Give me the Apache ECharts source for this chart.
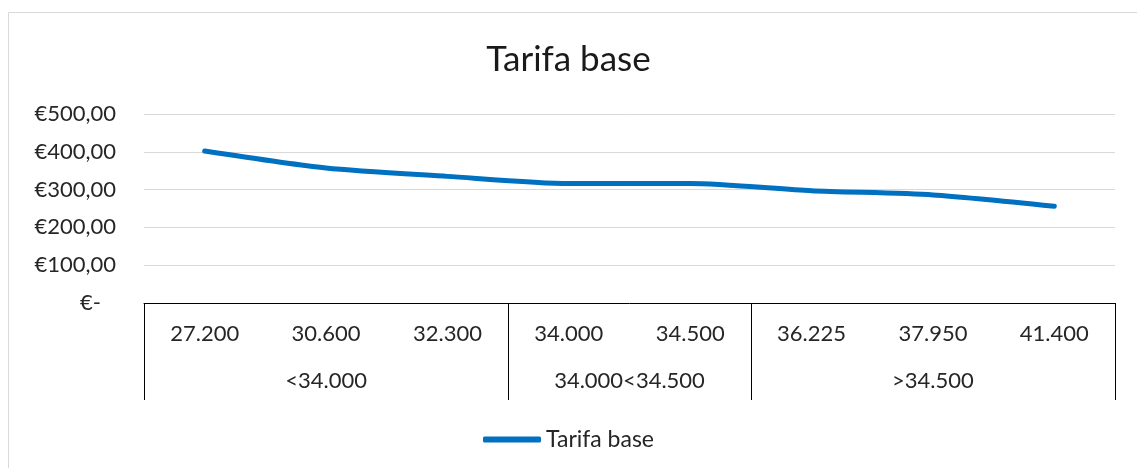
<!DOCTYPE html>
<html>
<head>
<meta charset="utf-8">
<script src="https://cdn.jsdelivr.net/npm/echarts@6/dist/echarts.min.js"></script>
<style>
html,body{margin:0;padding:0;background:#fff;}
#chart{width:1137px;height:468px;}
</style>
</head>
<body>
<div id="chart"></div>
<script>
// ---- data ----
const title = 'Tarifa base';
const seriesName = 'Tarifa base';
const categories = ['27.200', '30.600', '32.300', '34.000', '34.500', '36.225', '37.950', '41.400'];
const groupLabels = ['<34.000', '34.000<34.500', '>34.500'];
const groupSizes = [3, 2, 3];
const values = [402, 357, 335, 316, 316, 297, 286, 256];
const yTicks = [0, 100, 200, 300, 400, 500];

// build a half-slot axis (2 slots per category) for the group level
const nSlots = categories.length * 2;
const groupSlots = new Array(nSlots + 1).fill('');
const boundaries = new Set([0]);
let pos = 0;
groupSizes.forEach((n, i) => {
  groupSlots[pos * 2 + n] = groupLabels[i];
  pos += n;
  boundaries.add(pos * 2);
});

const font = 'Lato, "Open Sans", sans-serif';
const txt = '#262626';

const chart = echarts.init(document.getElementById('chart'), null, {renderer: 'canvas'});
chart.setOption({
  backgroundColor: '#fff',
  animation: false,
  title: {
    text: title,
    left: 'center',
    top: 37,
    textStyle: {fontFamily: font, fontSize: 35, fontWeight: 'normal', color: '#1a1a1a'}
  },
  graphic: [{
    type: 'rect',
    shape: {x: 8.5, y: 12.5, width: 1200, height: 600},
    style: {fill: 'none', stroke: '#D9D9D9', lineWidth: 1},
    silent: true, z: -1
  }],
  legend: {
    top: 423,
    left: 'center',
    data: [seriesName],
    icon: 'roundRect',
    itemWidth: 58,
    itemHeight: 6,
    textStyle: {fontFamily: font, fontSize: 23, color: txt}
  },
  grid: {left: 144, right: 22, top: 114, bottom: 165, containLabel: false},
  xAxis: [{
    type: 'category',
    data: categories,
    boundaryGap: true,
    position: 'bottom',
    axisLine: {show: true, lineStyle: {color: '#000', width: 1}},
    axisTick: {show: false},
    axisLabel: {fontFamily: font, fontSize: 22, color: txt, margin: 20, interval: 0}
  }, {
    type: 'category',
    data: groupSlots,
    boundaryGap: false,
    position: 'bottom',
    axisLine: {show: false},
    axisTick: {
      show: true, length: 97, inside: false,
      interval: function (idx) { return boundaries.has(idx); },
      lineStyle: {color: '#000', width: 1}
    },
    axisLabel: {
      fontFamily: font, fontSize: 22, color: txt, margin: 67,
      interval: function (idx, v) { return v !== ''; }
    },
    splitLine: {show: false}
  }],
  yAxis: {
    type: 'value',
    min: yTicks[0],
    max: yTicks[yTicks.length - 1],
    interval: yTicks[1] - yTicks[0],
    axisLine: {show: false},
    axisTick: {show: false},
    splitLine: {lineStyle: {color: '#D9D9D9', width: 1}},
    axisLabel: {
      fontFamily: font, fontSize: 22, color: txt, margin: 28,
      formatter: function (v) {
        if (v === 0) return '{d|€-}';
        return '€' + v.toFixed(2).replace('.', ',');
      },
      rich: {d: {fontFamily: font, fontSize: 22, color: txt, padding: [0, 15, 0, 0]}}
    }
  },
  series: [{
    name: seriesName,
    type: 'line',
    xAxisIndex: 0,
    data: values,
    smooth: 0.25,
    showSymbol: false,
    symbol: 'none',
    lineStyle: {color: '#0070C0', width: 5, cap: 'round'},
    itemStyle: {color: '#0070C0'}
  }]
});
</script>
</body>
</html>
